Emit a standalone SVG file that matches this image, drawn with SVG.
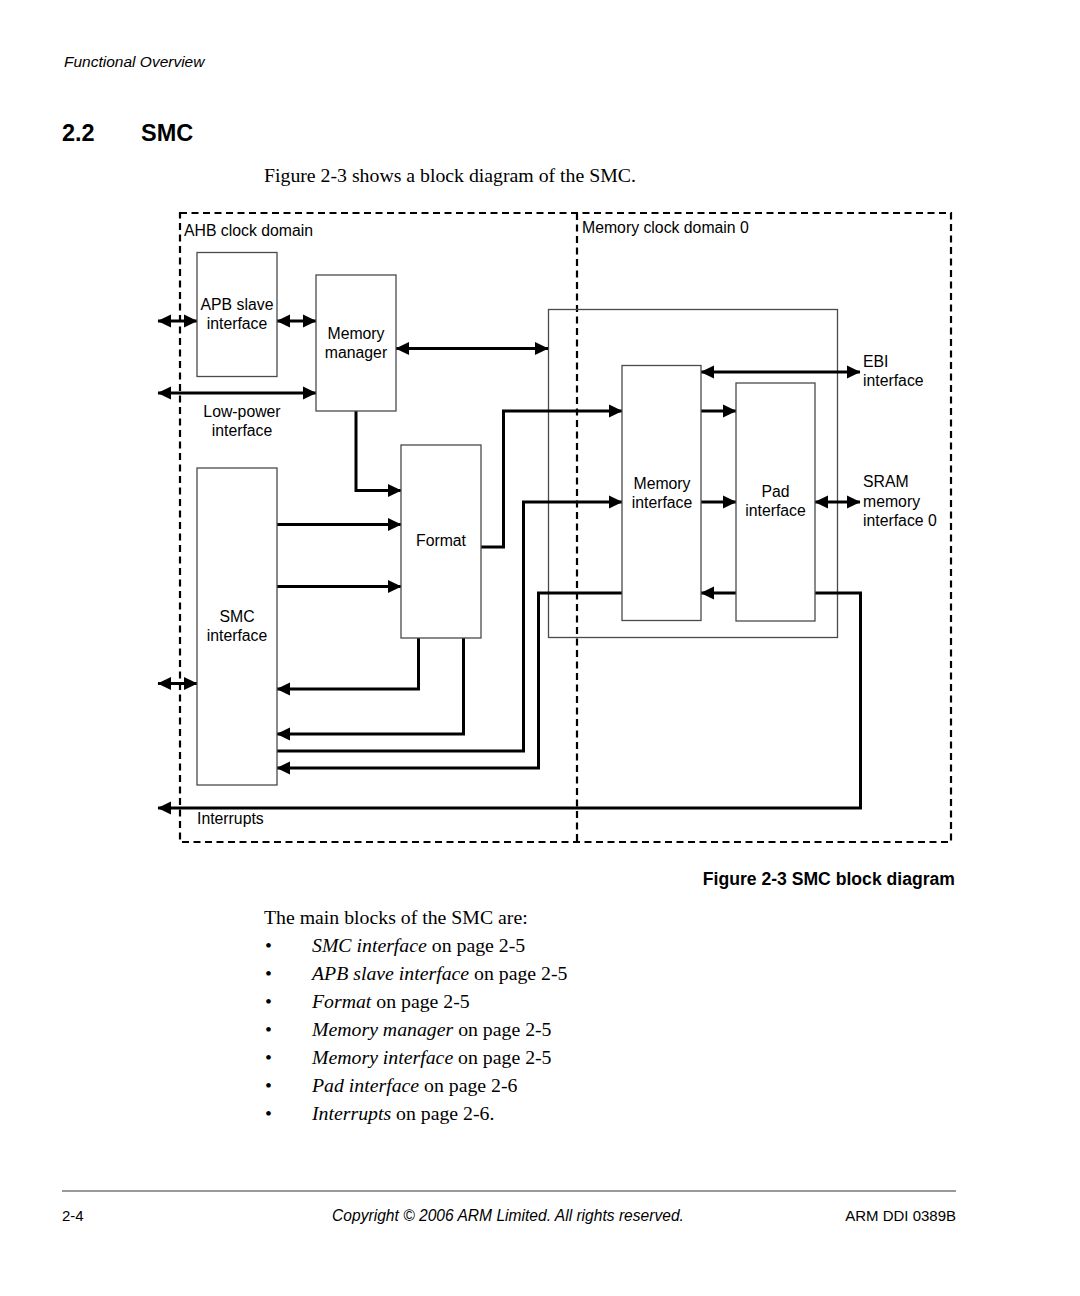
<svg xmlns="http://www.w3.org/2000/svg" width="1080" height="1296" viewBox="0 0 1080 1296">
<style>
.sans{font-family:"Liberation Sans",Arial,sans-serif;fill:#000}
.serif{font-family:"Liberation Serif","Times New Roman",serif;fill:#000}
.lbl{font-family:"Liberation Sans",Arial,sans-serif;font-size:15.8px;fill:#000}
.mid{text-anchor:middle}
.box{fill:#fff;stroke:#4a4a4a;stroke-width:1.3}
.cont{fill:none;stroke:#4a4a4a;stroke-width:1.3}
.dash{fill:none;stroke:#000;stroke-width:2.2;stroke-dasharray:7 4.5}
.wire{fill:none;stroke:#000;stroke-width:3}
.a1{marker-end:url(#ah)}
.a2{marker-end:url(#ah);marker-start:url(#ahs)}
</style>
<defs>
<marker id="ah" markerUnits="userSpaceOnUse" markerWidth="14" markerHeight="14" refX="13" refY="7" orient="auto" viewBox="0 0 14 14"><path d="M0,0.5 L13.5,7 L0,13.5 z" fill="#000"/></marker>
<marker id="ahs" markerUnits="userSpaceOnUse" markerWidth="14" markerHeight="14" refX="13" refY="7" orient="auto-start-reverse" viewBox="0 0 14 14"><path d="M0,0.5 L13.5,7 L0,13.5 z" fill="#000"/></marker>
</defs>
<rect width="1080" height="1296" fill="#fff"/>

<!-- page text -->
<text class="sans" x="64" y="67" font-size="15.5" font-style="italic">Functional Overview</text>
<text class="sans" x="62" y="141" font-size="23.5" font-weight="bold">2.2</text>
<text class="sans" x="141" y="141" font-size="23.5" font-weight="bold">SMC</text>
<text class="serif" x="264" y="182" font-size="19.8">Figure 2-3 shows a block diagram of the SMC.</text>

<!-- domains -->
<g id="domains">
<rect class="dash" x="180" y="213" width="771" height="629"/>
<line class="dash" x1="577" y1="213" x2="577" y2="842"/>
<text class="lbl" x="184" y="236">AHB clock domain</text>
<text class="lbl" x="582" y="233">Memory clock domain 0</text>
</g>

<g id="memory-container"><rect class="cont" x="548.5" y="309.5" width="289" height="328"/></g>

<!-- connectors -->
<g id="connectors">
<line class="wire a2" x1="158" y1="321" x2="197" y2="321"/>
<line class="wire a2" x1="277" y1="321" x2="316" y2="321"/>
<line class="wire a2" x1="396" y1="348.5" x2="548" y2="348.5"/>
<line class="wire a2" x1="158" y1="393" x2="316" y2="393"/>
<path class="wire a1" d="M356,411 V490.5 H401"/>
<line class="wire a1" x1="277" y1="524.5" x2="401" y2="524.5"/>
<line class="wire a1" x1="277" y1="586.5" x2="401" y2="586.5"/>
<path class="wire a1" d="M481,547 H503.5 V411 H622"/>
<line class="wire a1" x1="701" y1="411" x2="736" y2="411"/>
<line class="wire a2" x1="701" y1="372" x2="860" y2="372"/>
<path class="wire a1" d="M277,751 H523.5 V502 H622"/>
<line class="wire a1" x1="701" y1="502" x2="736" y2="502"/>
<line class="wire a2" x1="815" y1="502" x2="860" y2="502"/>
<line class="wire a1" x1="736" y1="593" x2="701" y2="593"/>
<path class="wire a1" d="M622,593 H538.5 V768 H277"/>
<path class="wire a1" d="M815,593 H860.5 V808 H158"/>
<path class="wire a1" d="M418.5,638 V689 H277"/>
<path class="wire a1" d="M463.5,638 V734 H277"/>
<line class="wire a2" x1="158" y1="683.5" x2="197" y2="683.5"/>
</g>

<!-- nodes -->
<g id="apb-slave">
<rect class="box" x="197" y="252.5" width="80" height="124"/>
<text class="lbl mid" x="237" y="310">APB slave</text>
<text class="lbl mid" x="237" y="329">interface</text>
</g>
<g id="memory-manager">
<rect class="box" x="316" y="275" width="80" height="136"/>
<text class="lbl mid" x="356" y="339">Memory</text>
<text class="lbl mid" x="356" y="358">manager</text>
</g>
<g id="low-power">
<text class="lbl mid" x="242" y="417">Low-power</text>
<text class="lbl mid" x="242" y="436">interface</text>
</g>
<g id="format">
<rect class="box" x="401" y="445" width="80" height="193"/>
<text class="lbl mid" x="441" y="546">Format</text>
</g>
<g id="smc-interface">
<rect class="box" x="197" y="468" width="80" height="317"/>
<text class="lbl mid" x="237" y="622">SMC</text>
<text class="lbl mid" x="237" y="641">interface</text>
</g>
<g id="memory-interface">
<rect class="box" x="622" y="365.5" width="79" height="255"/>
<text class="lbl mid" x="662" y="489">Memory</text>
<text class="lbl mid" x="662" y="508">interface</text>
</g>
<g id="pad-interface">
<rect class="box" x="736" y="383" width="79" height="238"/>
<text class="lbl mid" x="775.5" y="497">Pad</text>
<text class="lbl mid" x="775.5" y="516">interface</text>
</g>
<g id="ebi">
<text class="lbl" x="863" y="367">EBI</text>
<text class="lbl" x="863" y="386">interface</text>
</g>
<g id="sram">
<text class="lbl" x="863" y="487">SRAM</text>
<text class="lbl" x="863" y="507">memory</text>
<text class="lbl" x="863" y="526">interface 0</text>
</g>
<g id="interrupts">
<text class="lbl" x="197" y="824">Interrupts</text>
</g>

<text class="sans" x="955" y="885" font-size="17.6" font-weight="bold" text-anchor="end">Figure 2-3 SMC block diagram</text>

<g class="serif" font-size="19.8">
<text x="264" y="924">The main blocks of the SMC are:</text>
<text x="265" y="952">•</text><text x="312" y="952"><tspan font-style="italic">SMC interface</tspan> on page 2-5</text>
<text x="265" y="980">•</text><text x="312" y="980"><tspan font-style="italic">APB slave interface</tspan> on page 2-5</text>
<text x="265" y="1008">•</text><text x="312" y="1008"><tspan font-style="italic">Format</tspan> on page 2-5</text>
<text x="265" y="1036">•</text><text x="312" y="1036"><tspan font-style="italic">Memory manager</tspan> on page 2-5</text>
<text x="265" y="1064">•</text><text x="312" y="1064"><tspan font-style="italic">Memory interface</tspan> on page 2-5</text>
<text x="265" y="1092">•</text><text x="312" y="1092"><tspan font-style="italic">Pad interface</tspan> on page 2-6</text>
<text x="265" y="1120">•</text><text x="312" y="1120"><tspan font-style="italic">Interrupts</tspan> on page 2-6.</text>
</g>

<line x1="62" y1="1191" x2="956" y2="1191" stroke="#777" stroke-width="1.3"/>
<text class="sans" x="62" y="1221" font-size="15">2-4</text>
<text class="sans" x="508" y="1221" font-size="15.6" font-style="italic" text-anchor="middle">Copyright © 2006 ARM Limited. All rights reserved.</text>
<text class="sans" x="956" y="1221" font-size="15" text-anchor="end">ARM DDI 0389B</text>
</svg>
